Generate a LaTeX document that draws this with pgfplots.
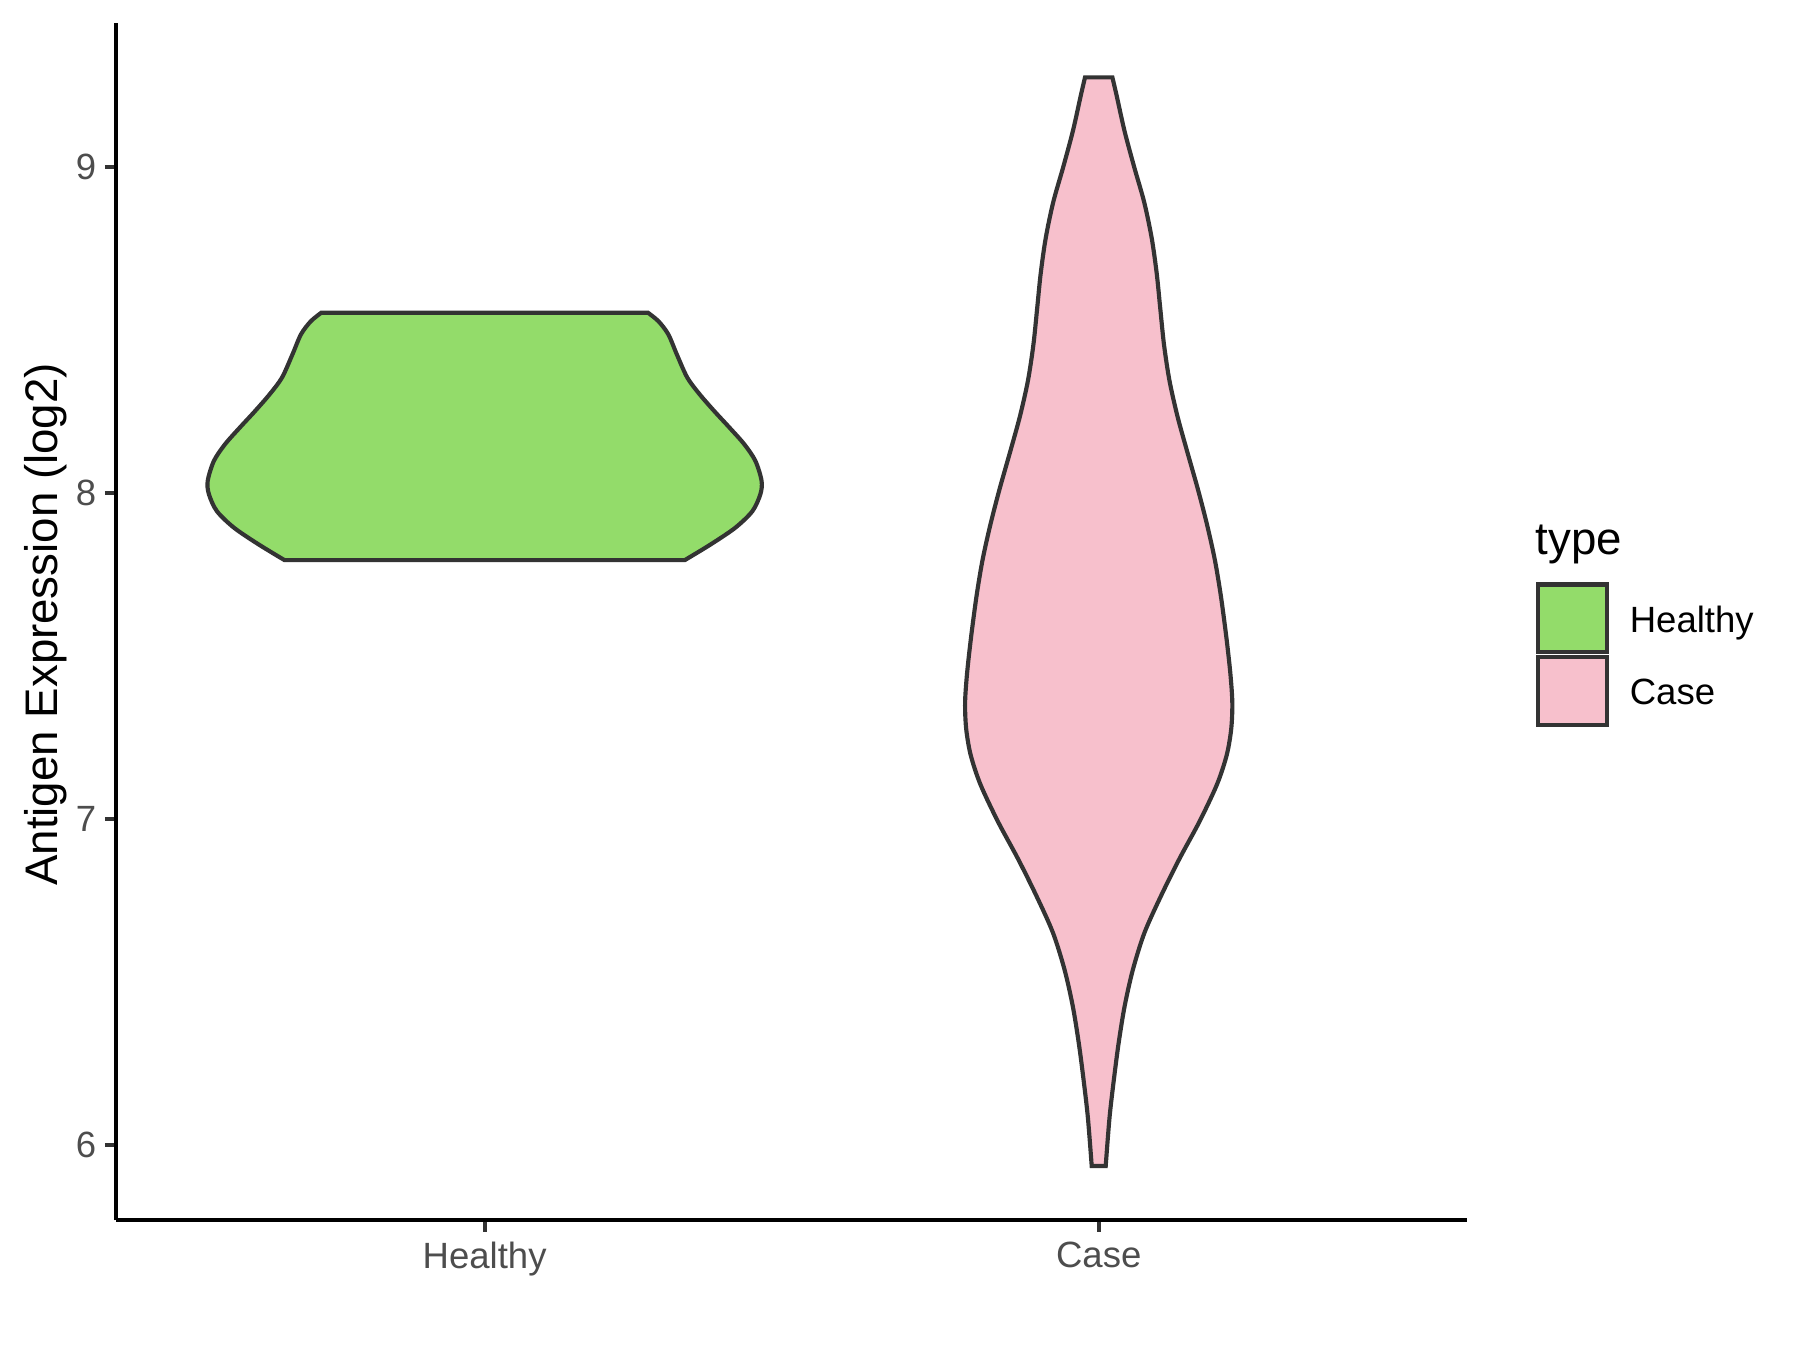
\documentclass[border=0pt]{standalone}
\usepackage{fontspec}
\setmainfont{Liberation Sans}
\usepackage{pgfplots}
\pgfplotsset{compat=1.18}
\usepgfplotslibrary{fillbetween}
\usepackage{pgfplotstable}
\usetikzlibrary{calc}
\definecolor{hfill}{RGB}{147,220,106}
\definecolor{cfill}{RGB}{247,192,204}
\definecolor{ol}{RGB}{51,51,51}
\definecolor{ticklab}{RGB}{77,77,77}

% violin half-widths: y value, half-width (top to bottom)
\pgfplotstableread{
y w
8.553 0.266
8.527 0.283
8.487 0.299
8.425 0.313
8.354 0.330
8.303 0.350
8.251 0.374
8.200 0.399
8.149 0.423
8.098 0.441
8.037 0.451
7.996 0.449
7.944 0.436
7.893 0.408
7.842 0.368
7.794 0.326
}\healthy

\pgfplotstableread{
y w
9.275 0.0223
9.221 0.0290
9.111 0.0420
9.000 0.0578
8.892 0.0741
8.782 0.0863
8.673 0.0945
8.563 0.1004
8.454 0.1064
8.344 0.1153
8.235 0.1283
8.125 0.1444
8.015 0.1610
7.906 0.1760
7.796 0.1890
7.687 0.1987
7.560 0.2077
7.446 0.2144
7.356 0.2176
7.276 0.2158
7.196 0.2085
7.106 0.1927
6.992 0.1642
6.878 0.1316
6.765 0.1018
6.651 0.0746
6.537 0.0556
6.424 0.0421
6.310 0.0323
6.197 0.0245
6.083 0.0176
5.935 0.0114
}\case

\begin{document}
\begin{tikzpicture}
\begin{axis}[
  name=ax,
  scale only axis, width=325.5pt, height=288.5pt,
  xmin=0.4, xmax=2.6, ymin=5.768, ymax=9.442,
  clip=false,
  axis x line*=bottom, axis y line*=left,
  axis line style={line width=1.0pt, black, -},
  xtick={1,2}, xticklabels={Healthy,Case},
  ytick={6,7,8,9},
  tick align=outside, major tick length=2.75pt,
  tick style={ol, line width=1.0pt},
  ticklabel style={font=\fontsize{8.8}{10}\selectfont, text=ticklab},
  /pgf/number format/assume math mode=true,
  yticklabel style={inner sep=0pt, anchor=east, xshift=-1.9pt},
  xticklabel style={inner sep=0pt, anchor=north, yshift=-2.2pt},
  ylabel={Antigen Expression (log2)},
  ylabel style={at={(rel axis cs:-0.0438,0.4978)}, anchor=base, font=\fontsize{11}{13}\selectfont, inner sep=0pt},
  legend style={at={(rel axis cs:1.051,0.5328)}, anchor=north west, draw=none, fill=none,
    inner sep=0pt, outer sep=0pt, row sep=0.17pt, column sep=3.0pt,
    font=\fontsize{8.8}{10}\selectfont, text=black},
  legend cell align=left,
  legend image code/.code={\draw[#1, line width=1.0pt] (0pt,-7.2pt) rectangle (16.6pt,9.1pt);},
]
% Healthy violin
\addplot[draw=none, smooth, tension=0.5, name path=hR, forget plot]
  table[x expr=1+\thisrow{w}, y=y] {\healthy};
\addplot[draw=none, smooth, tension=0.5, name path=hL, forget plot]
  table[x expr=1-\thisrow{w}, y=y] {\healthy};
\addplot[fill=hfill, draw=ol, line width=1.0pt, line join=miter, forget plot]
  fill between[of=hR and hL, reverse=true];
% Case violin
\addplot[draw=none, smooth, tension=0.5, name path=cR, forget plot]
  table[x expr=2+\thisrow{w}, y=y] {\case};
\addplot[draw=none, smooth, tension=0.5, name path=cL, forget plot]
  table[x expr=2-\thisrow{w}, y=y] {\case};
\addplot[fill=cfill, draw=ol, line width=1.0pt, line join=miter, forget plot]
  fill between[of=cR and cL, reverse=true];
% legend
\addlegendimage{fill=hfill, draw=ol}
\addlegendentry{Healthy}
\addlegendimage{fill=cfill, draw=ol}
\addlegendentry{Case}
\node[anchor=base west, inner sep=0pt, font=\fontsize{11}{13}\selectfont] at (rel axis cs:1.0503,0.5558) {type};
\end{axis}
\pgfresetboundingbox
\path[use as bounding box] ($(ax.south west)+(-28.0pt,-31.15pt)$) rectangle ($(ax.north east)+(80.2pt,5.54pt)$);
\end{tikzpicture}
\end{document}
